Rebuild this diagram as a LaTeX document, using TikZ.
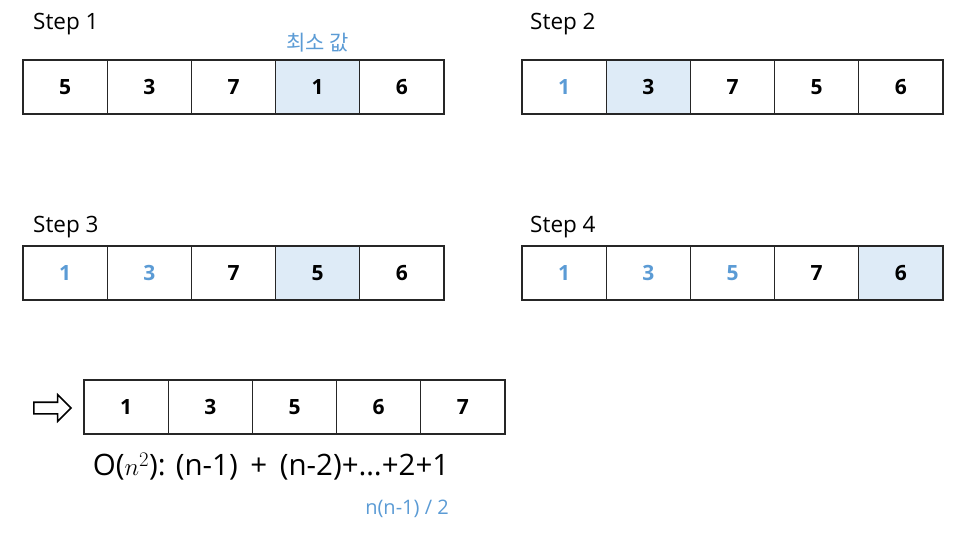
\documentclass[tikz,border=0pt]{standalone}
\usepackage{fontspec}
\setmainfont{Open Sans}
\newfontfamily\kor{Noto Sans CJK KR}
\usetikzlibrary{shapes.arrows,positioning}
\definecolor{minfill}{RGB}{222,235,247}
\definecolor{sortblue}{RGB}{91,155,213}
\tikzset{
  cell/.style={draw=black!85,line width=1.3pt,outer sep=0pt,inner sep=0pt,minimum width=84.2pt,minimum height=54pt,font=\bfseries\fontsize{21}{21}\selectfont},
  minc/.style={fill=minfill},
  sorted/.style={text=sortblue},
  steplbl/.style={anchor=base west,inner sep=0pt,font=\fontsize{22.5}{22.5}\selectfont}
}
\begin{document}
\begin{tikzpicture}[x=1pt,y=-1pt]
\useasboundingbox (0,0) rectangle (961,543);
% step 1
\node[steplbl](L1) at (33,30){Step 1};
\foreach \v/\s [count=\i] in {5/,3/,7/,1/minc,6/}
  \node[cell,\s](a\i) at (-19.1+\i*84.2,87){\v};
\node[above=8pt of a4,inner sep=0pt,text=sortblue,font=\kor\fontsize{21}{21}\selectfont](M){최소 값};
% step 2
\node[steplbl](L2) at (530,30){Step 2};
\foreach \v/\s [count=\i] in {1/sorted,3/minc,7/,5/,6/}
  \node[cell,\s](b\i) at (479.9+\i*84.2,87){\v};
% step 3
\node[steplbl](L3) at (33,232){Step 3};
\foreach \v/\s [count=\i] in {1/sorted,3/sorted,7/,5/minc,6/}
  \node[cell,\s](c\i) at (-19.1+\i*84.2,273){\v};
% step 4
\node[steplbl](L4) at (530,232){Step 4};
\foreach \v/\s [count=\i] in {1/sorted,3/sorted,5/sorted,7/,6/minc}
  \node[cell,\s](d\i) at (479.9+\i*84.2,273){\v};
% result
\foreach \v [count=\i] in {1,3,5,6,7}
  \node[cell](r\i) at (41.9+\i*84.2,407){\v};
\node[single arrow,draw=black,fill=white,line width=1.6pt,inner xsep=0pt,inner ysep=5pt,minimum height=37pt,minimum width=25pt,single arrow head extend=7.5pt](go) at (49.5,408){};
\node[inner sep=0pt,font=\fontsize{29.5}{29.5}\selectfont](F) at (271,467){O($n^2$): (n-1) \,+\, (n-2)+…+2+1};
\node[inner sep=0pt,text=sortblue,font=\fontsize{20}{20}\selectfont](S) at (407,509){n(n-1) / 2};
\end{tikzpicture}
\end{document}
